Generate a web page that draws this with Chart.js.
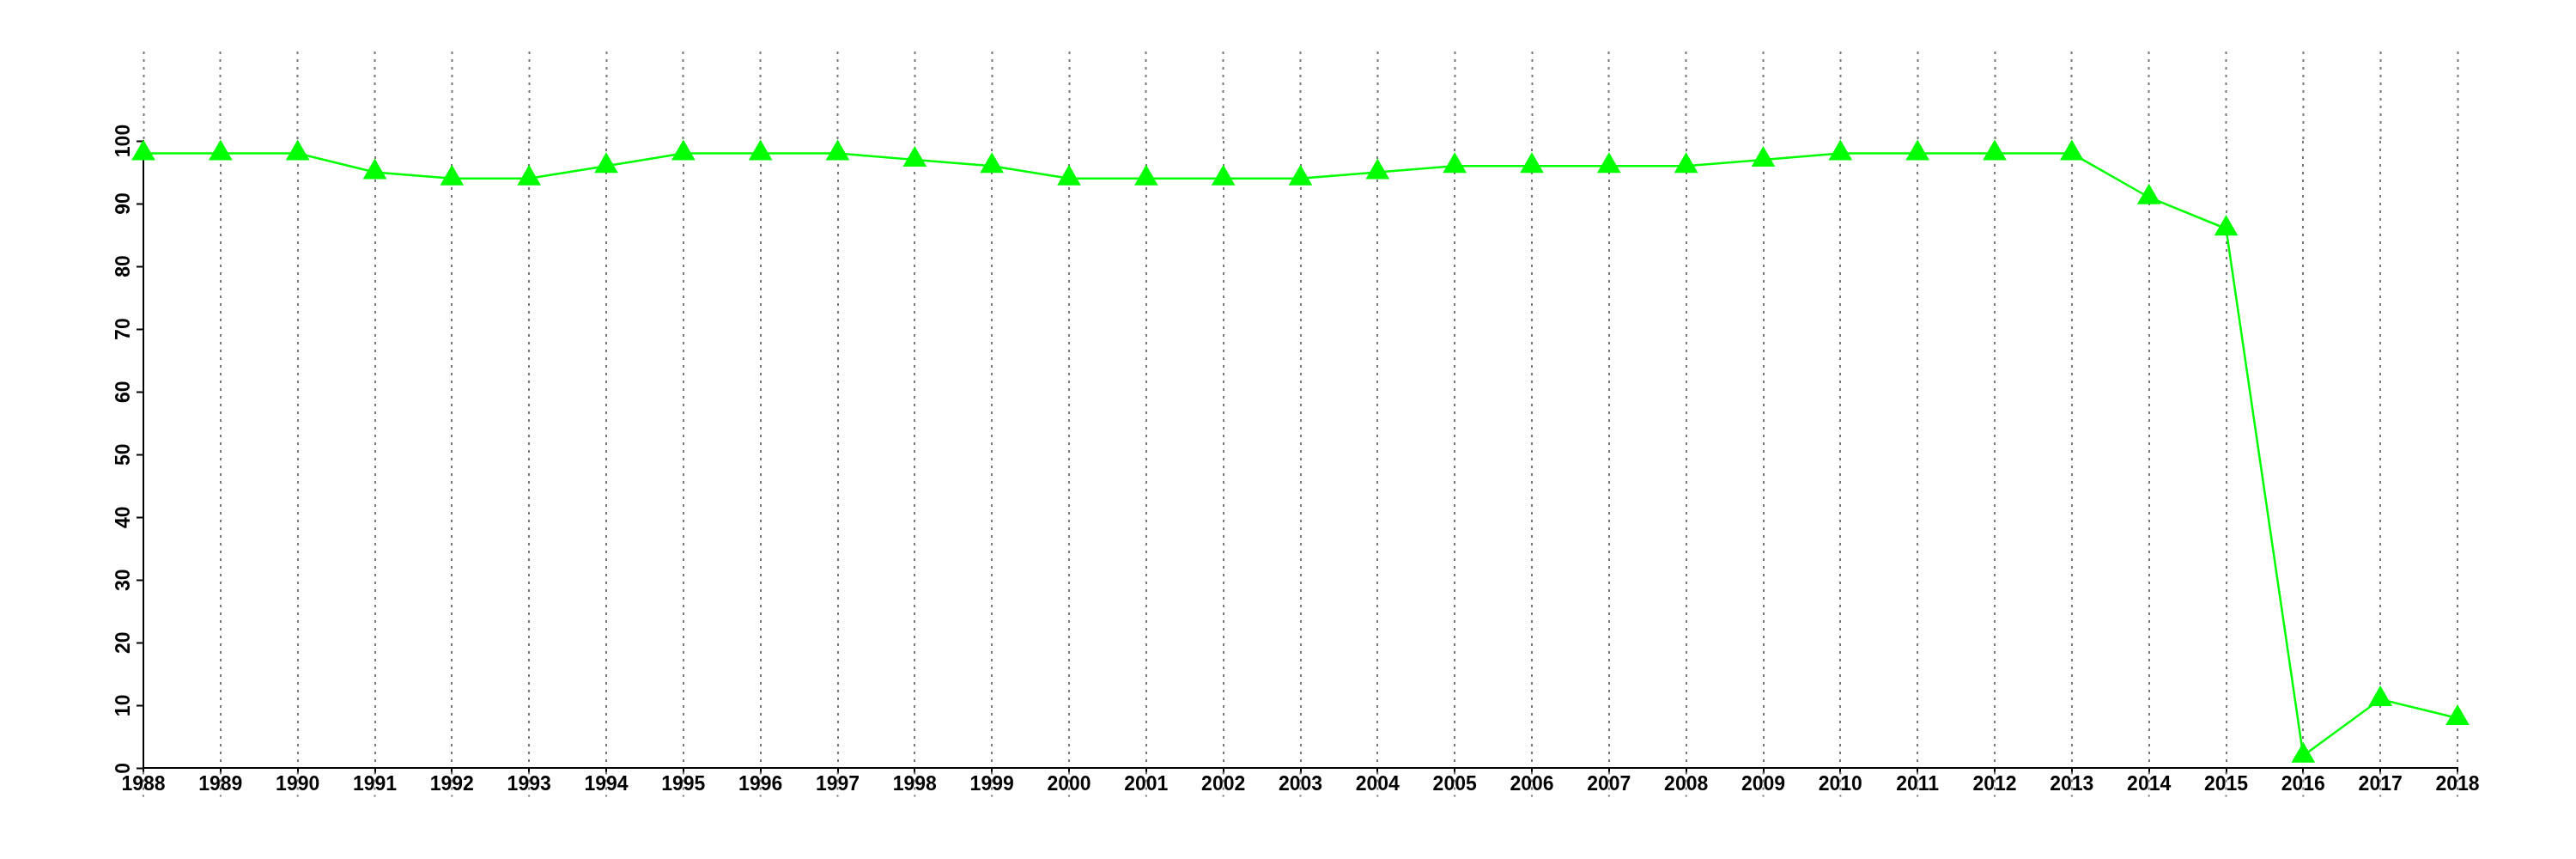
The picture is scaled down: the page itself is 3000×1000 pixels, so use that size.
<!DOCTYPE html>
<html>
<head>
<meta charset="utf-8">
<script src="https://cdn.jsdelivr.net/npm/chart.js@4"></script>
<style>
  html, body { margin: 0; padding: 0; background: #ffffff; }
  canvas { display: block; }
</style>
</head>
<body>
<canvas id="yearChart" width="3000" height="1000"></canvas>
<script>
const years = ['1988', '1989', '1990', '1991', '1992', '1993', '1994', '1995', '1996', '1997',
  '1998', '1999', '2000', '2001', '2002', '2003', '2004', '2005', '2006', '2007',
  '2008', '2009', '2010', '2011', '2012', '2013', '2014', '2015', '2016', '2017', '2018'];
const values = [98, 98, 98, 95, 94, 94, 96, 98, 98, 98,
  97, 96, 94, 94, 94, 94, 95, 96, 96, 96,
  96, 97, 98, 98, 98, 98, 91, 86, 2, 11, 8];
const yMin = 0;
const yMax = 100;
const yStep = 10;

const tickFont = { family: '"Liberation Sans", Arial, sans-serif', size: 23, weight: 'bold' };
const gridGray = '#777777';
const gridDash = [3, 6];

//dotted grid lines run on a bit below the x axis, through the year labels
const gridTailPlugin = {
  id: 'gridTail',
  afterDraw(chart) {
    const xScale = chart.scales.x;
    const bottom = chart.chartArea.bottom;
    const c = chart.ctx;
    c.save();
    c.strokeStyle = gridGray;
    c.lineWidth = 2;
    c.setLineDash(gridDash);
    xScale.ticks.forEach((t, i) => {
      const px = xScale.getPixelForTick(i);
      c.beginPath();
      c.moveTo(px, bottom + 4);
      c.lineTo(px, bottom + 33);
      c.stroke();
    });
    c.restore();
  }
};

document.addEventListener('DOMContentLoaded', function () {
  const ctx = document.getElementById('yearChart').getContext('2d');
  new Chart(ctx, {
    type: 'line',
    data: {
      labels: years,
      datasets: [{
        data: values,
        borderColor: '#00ff00',
        backgroundColor: '#00ff00',
        borderWidth: 2.5,
        tension: 0,
        pointStyle: 'triangle',
        pointRadius: 16,
        pointBorderWidth: 0,
        pointBackgroundColor: '#00ff00',
        clip: false,
      }]
    },
    options: {
      responsive: false,
      animation: false,
      layout: {
        padding: { left: 125, right: 138, top: 60, bottom: 74 }
      },
      plugins: {
        legend: { display: false },
        tooltip: { enabled: false },
      },
      scales: {
        x: {
          type: 'category',
          position: 'bottom',
          offset: false,
          grid: {
            color: gridGray,
            lineWidth: 2,
            drawTicks: true,
            tickLength: 6,
            tickColor: '#000000',
            tickWidth: 2,
          },
          border: { display: true, color: '#000000', width: 2, dash: gridDash },
          ticks: {
            color: '#000000',
            font: tickFont,
            padding: -1,
            maxRotation: 0,
            autoSkip: false,
          },
        },
        xTop: {
          type: 'category',
          position: 'top',
          offset: false,
          grid: {
            drawOnChartArea: false,
            drawTicks: true,
            tickLength: 104,
            tickColor: gridGray,
            tickWidth: 2,
            tickBorderDash: gridDash,
          },
          border: { display: false },
          ticks: { display: false, autoSkip: false },
        },
        y: {
          min: yMin,
          max: yMax,
          afterFit: function (scale) {
            scale.width = 42;  //room for the rotated labels
          },
          grid: {
            drawOnChartArea: false,
            drawTicks: true,
            tickLength: 8,
            tickColor: '#000000',
            tickWidth: 2,
          },
          border: { display: true, color: '#000000', width: 2 },
          ticks: {
            stepSize: yStep,
            color: '#000000',
            font: tickFont,
            minRotation: 90,
            maxRotation: 90,
            crossAlign: 'center',
            padding: -5,
          },
        },
      },
    },
    plugins: [gridTailPlugin],
  });
});
</script>
</body>
</html>
